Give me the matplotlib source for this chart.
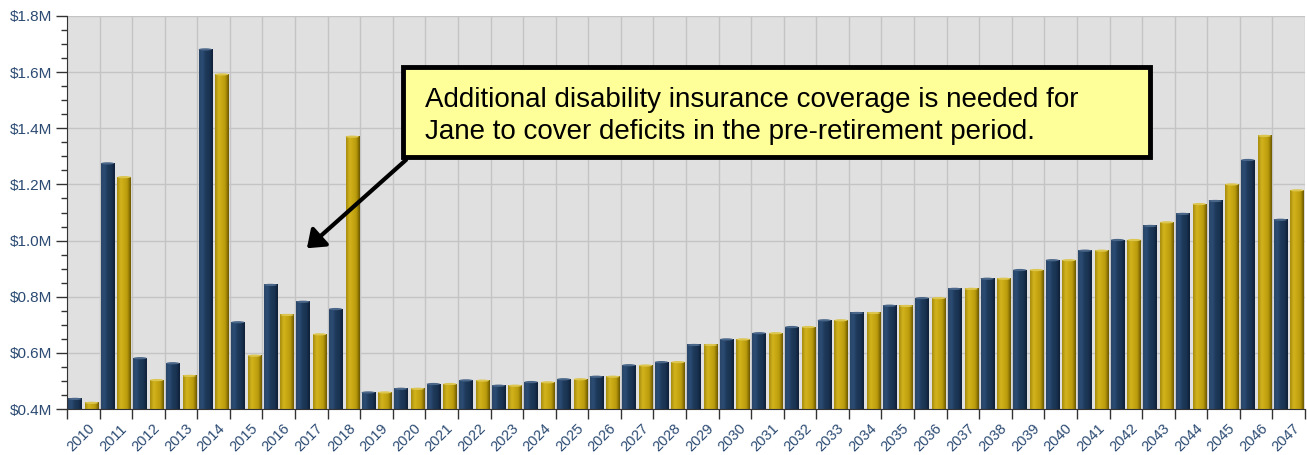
import numpy as np
import matplotlib.pyplot as plt
from matplotlib.colors import LinearSegmentedColormap
from matplotlib.patches import Rectangle, Ellipse
from matplotlib.ticker import MultipleLocator, FuncFormatter

# values in $M, one navy and one gold bar per year
years = [str(y) for y in range(2010, 2048)]
navy_vals = [0.436, 1.275, 0.581, 0.563, 1.681, 0.709, 0.842, 0.782, 0.756, 0.459,
             0.472, 0.489, 0.502, 0.483, 0.496, 0.506, 0.515, 0.556, 0.567, 0.628,
             0.648, 0.670, 0.692, 0.716, 0.742, 0.768, 0.795, 0.828, 0.864, 0.895,
             0.930, 0.964, 1.002, 1.052, 1.095, 1.141, 1.287, 1.074]
gold_vals = [0.422, 1.226, 0.503, 0.518, 1.592, 0.590, 0.735, 0.666, 1.370, 0.459,
             0.472, 0.489, 0.501, 0.483, 0.495, 0.506, 0.515, 0.555, 0.567, 0.628,
             0.648, 0.670, 0.692, 0.716, 0.742, 0.767, 0.795, 0.828, 0.864, 0.895,
             0.930, 0.964, 1.002, 1.065, 1.130, 1.200, 1.373, 1.179]
note = ("Additional disability insurance coverage is needed for\n"
        "Jane to cover deficits in the pre-retirement period.")

plt.rcParams['font.family'] = ['Liberation Sans', 'DejaVu Sans']

fig = plt.figure(figsize=(13.07, 4.55), dpi=100)
ax = fig.add_axes([67/1307, 46/455, 1238/1307, 393/455])
ax.set_facecolor('#e0e0e0')

x = np.arange(len(years))
w = 0.41
navy_cmap = LinearSegmentedColormap.from_list('navy', ['#2a4668', '#2c4c74', '#1d3858', '#1a3352', '#0f1f36'])
gold_cmap = LinearSegmentedColormap.from_list('gold', ['#a48a0c', '#d2b41e', '#c8a812', '#b89a0c', '#6a5600'])
grad = np.linspace(0, 1, 64).reshape(1, -1)

for vals, off, cmap, cap in [(navy_vals, -0.255, navy_cmap, '#4a6688'),
                             (gold_vals, 0.255, gold_cmap, '#dcc650')]:
    bars = ax.bar(x + off, vals, width=w, color='none', zorder=2)
    for p in bars:
        x0, bw, h = p.get_x(), p.get_width(), p.get_height()
        ax.imshow(grad, cmap=cmap, extent=[x0, x0 + bw, 0.4, h], aspect='auto',
                  interpolation='bicubic', zorder=2)
        ax.add_patch(Ellipse((x0 + bw / 2, h), bw, 0.008, color=cap, zorder=3, lw=0))

ax.set_xlim(-0.5, len(years) - 0.5)
ax.set_ylim(0.4, 1.8)

# y axis
ax.yaxis.set_major_locator(MultipleLocator(0.2))
ax.yaxis.set_minor_locator(MultipleLocator(0.05))
ax.yaxis.set_major_formatter(FuncFormatter(lambda v, p: f'${v:.1f}M'))
ax.tick_params(axis='y', which='major', length=8, width=1, color='#333333',
               labelsize=11, labelcolor='#2b4a72', pad=3)
ax.tick_params(axis='y', which='minor', length=4, width=1, color='#333333')

# x axis: ticks on boundaries, labels shifted right of centre
ax.set_xticks(np.arange(len(years) + 1) - 0.5)
ax.set_xticklabels([])
ax.set_xticks(x + 0.13, minor=True)
ax.set_xticklabels(years, minor=True, rotation=45, ha='right', va='top',
                   rotation_mode='anchor')
ax.tick_params(axis='x', which='major', length=7, width=1, color='#333333')
ax.tick_params(axis='x', which='minor', length=0, labelsize=10.5,
               labelcolor='#2b4a72', pad=9)

ax.grid(True, which='major', color='#c4c4c4', lw=1)
ax.set_axisbelow(True)
for s in ['top', 'right']:
    ax.spines[s].set_visible(False)
for s in ['left', 'bottom']:
    ax.spines[s].set_color('#333333')

# callout
ax.add_patch(Rectangle((9.81, 1.298), 22.93, 0.32, facecolor='#ffff99',
                       edgecolor='black', lw=3.5, zorder=6))
ax.text(10.5, 1.442, note, fontsize=20, va='center', ha='left', linespacing=1.3,
        zorder=7)
ax.annotate('', xy=(6.8, 0.966), xytext=(9.97, 1.294),
            arrowprops=dict(arrowstyle='-|>,head_length=1.0,head_width=0.75',
                            color='black', lw=3), zorder=7)

fig.savefig('out.png', dpi=100)
